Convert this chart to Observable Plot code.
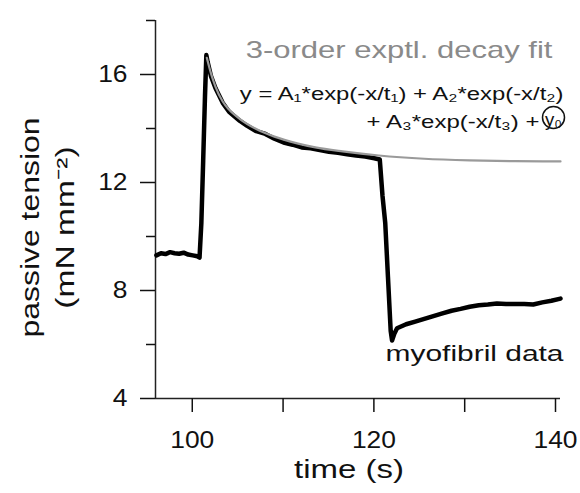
<!DOCTYPE html>
<html><head><meta charset="utf-8">
<script src="https://cdn.jsdelivr.net/npm/d3@7"></script>
<script src="https://cdn.jsdelivr.net/npm/@observablehq/plot@0.6"></script>
<style>
body{margin:0;background:#fff}
svg{font-family:"Liberation Sans",Arial,Helvetica,sans-serif}
</style>
</head><body>
<script>
// myofibril data (time s, tension mN mm^-2)
const dataTime = [95.5,96.0,96.5,97.0,97.5,98.0,98.5,99.0,99.5,100.0,100.25,100.45,100.65,100.85,101.0,101.15,101.5,102.0,102.8,103.5,104.7,105.5,106.5,107.5,108.5,109.5,110.5,111.5,112.5,113.5,114.5,115.5,116.5,117.5,118.5,119.5,120.1,120.4,120.7,121.0,121.3,121.45,121.7,122.0,123.0,124.0,125.0,126.0,127.0,128.0,129.0,130.0,131.0,132.0,133.0,134.0,135.0,136.0,137.0,138.0,139.0,140.0];
const dataTension = [9.3,9.38,9.35,9.42,9.38,9.36,9.4,9.33,9.3,9.27,9.22,10.5,12.8,15.2,16.72,16.45,15.95,15.5,14.95,14.62,14.28,14.1,13.9,13.8,13.62,13.48,13.4,13.3,13.27,13.2,13.14,13.1,13.05,13.0,12.96,12.9,12.85,11.5,10.5,8.5,6.5,6.15,6.4,6.6,6.75,6.85,6.95,7.05,7.15,7.25,7.32,7.4,7.45,7.48,7.52,7.5,7.5,7.5,7.48,7.56,7.62,7.7];
// 3-order exponential decay fit
const fitTime = [101.05,101.5,102.0,102.8,103.5,104.7,106.5,108.5,111,113,116,120,125,130,135,140];
const fitTension = [16.62,16.05,15.55,15.0,14.7,14.35,13.98,13.7,13.45,13.3,13.15,13.0,12.88,12.82,12.79,12.78];

const xTicks = [100,110,120,130,140];
const xTickLabels = [100,120,140];
const yTicks = [4,8,12,16];
const yMinorTicks = [6,10,14,18];

const titleText = "3-order exptl. decay fit";
const formula1 = "y = A\u2081*exp(-x/t\u2081) + A\u2082*exp(-x/t\u2082)";
const formula2 = "+ A\u2083*exp(-x/t\u2083) +";
const formulaY0 = "y\u2080";
const dataLabel = "myofibril data";
const xLabel = "time (s)";
const yLabel1 = "passive tension";
const yLabel2 = "(mN mm\u207B\u00B2)";

const dataRows = dataTime.map((t, i) => ({t, v: dataTension[i]}));
const fitRows = fitTime.map((t, i) => ({t, v: fitTension[i]}));

const chart = Plot.plot({
  width: 580, height: 493,
  marginLeft: 155, marginRight: 20, marginTop: 20, marginBottom: 95,
  style: {background: "white", color: "#111", fontFamily: '"Liberation Sans", Arial, sans-serif'},
  x: {domain: [95.4, 140], label: null},
  y: {domain: [4, 18], label: null},
  marks: [
    Plot.ruleX([95.4], {stroke: "#222", strokeWidth: 1.5}),
    Plot.ruleY([4], {stroke: "#222", strokeWidth: 1.5}),
    Plot.axisX({ticks: xTicks, tickSize: 14, tickPadding: 18, strokeWidth: 1.5, fontSize: 24, dx: -5,
      tickFormat: d => xTickLabels.includes(d) ? String(d) : "", label: null}),
    Plot.axisY({ticks: yTicks, tickSize: 15, tickPadding: 13, strokeWidth: 1.5, fontSize: 24, label: null}),
    Plot.axisY({ticks: yMinorTicks, tickSize: 9, strokeWidth: 1.5, tickFormat: () => "", label: null}),
    Plot.line(dataRows, {x: "t", y: "v", stroke: "#000", strokeWidth: 4.5, strokeLinejoin: "round", strokeLinecap: "round"}),
    Plot.line(fitRows, {x: "t", y: "v", stroke: "#9a9a9a", strokeWidth: 2.2, curve: "monotone-x"}),
    Plot.text([titleText], {text: d => d, frameAnchor: "top-right", textAnchor: "end", dx: -8, dy: 21, fontSize: 23, fill: "#8a8a8a"}),
    Plot.text([formula1], {text: d => d, frameAnchor: "top-right", textAnchor: "end", dx: 3, dy: 67, fontSize: 18, fill: "#111"}),
    Plot.text([formula2], {text: d => d, frameAnchor: "top-right", textAnchor: "end", dx: -21, dy: 95, fontSize: 18, fill: "#111"}),
    Plot.text([formulaY0], {text: d => d, frameAnchor: "top-right", textAnchor: "middle", dx: -7, dy: 93, fontSize: 18, fill: "#111"}),
    Plot.dot([0], {frameAnchor: "top-right", dx: -7, dy: 97, r: 11, stroke: "#111", strokeWidth: 1.5, fill: "none"}),
    Plot.text([dataLabel], {text: d => d, frameAnchor: "bottom-right", textAnchor: "end", dx: 3, dy: -38, fontSize: 22, fill: "#111"}),
    Plot.text([xLabel], {text: d => d, frameAnchor: "bottom", textAnchor: "middle", dx: -9, dy: 79, fontSize: 26, fill: "#111"}),
    Plot.text([yLabel1], {text: d => d, frameAnchor: "left", textAnchor: "middle", rotate: -90, dx: -125, dy: 18, fontSize: 26, fill: "#111"}),
    Plot.text([yLabel2], {text: d => d, frameAnchor: "left", textAnchor: "middle", rotate: -90, dx: -90, dy: 18, fontSize: 26, fill: "#111"})
  ]
});
document.body.append(chart);

// the reference lettering is set wide: stretch each text along its baseline,
// scaling horizontally (in the text's own frame) about its anchor x
const targetWidths = {
  [titleText]: 307, [formula1]: 324, [formula2]: 173, [formulaY0]: 17,
  [dataLabel]: 178, [xLabel]: 110, [yLabel1]: 220, [yLabel2]: 163
};
d3.select(chart).selectAll("text").each(function() {
  const t = this.textContent;
  if (!t) return;
  const w = this.getComputedTextLength();
  if (!w) return;
  const target = targetWidths[t] ?? w * 1.1;
  const sx = target / w;
  const xl = this.x && this.x.baseVal;
  const x = xl && xl.numberOfItems ? xl.getItem(0).value : 0;
  const prev = this.getAttribute("transform") || "";
  this.setAttribute("transform", `${prev} translate(${x},0) scale(${sx},1) translate(${-x},0)`.trim());
});
</script>
</body></html>
